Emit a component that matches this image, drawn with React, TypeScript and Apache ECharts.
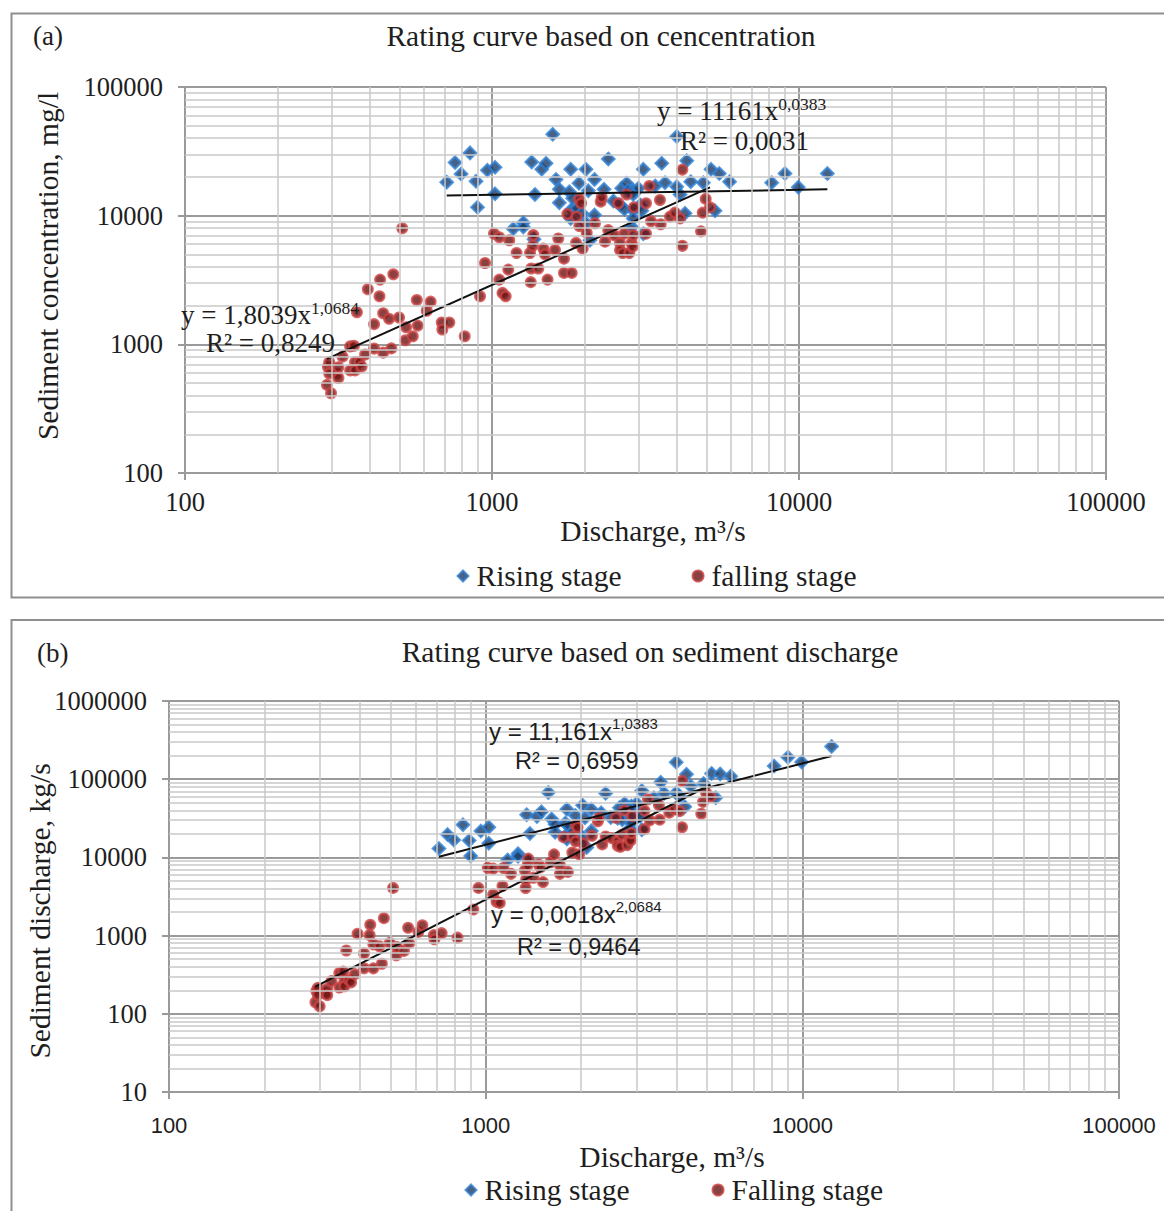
import React, { useEffect, useRef } from "react";
import * as echarts from "echarts";

// Rising stage samples: [discharge Q (m³/s), sediment concentration C (mg/l)]
const risingStage: [number, number][] = [
  [712, 18200], [758, 25880], [793, 21100], [848, 30760], [887, 18500],
  [897, 11620], [966, 22500], [1023, 23770], [1023, 14800], [1173, 7900],
  [1265, 8820], [1265, 8165], [1370, 6556], [1347, 26100], [1380, 14620],
  [1452, 22930], [1500, 25540], [1577, 42900], [1616, 19110], [1657, 16040],
  [1657, 12620], [1786, 15370], [1805, 22930], [1805, 9520], [1818, 11210],
  [1832, 13650], [1885, 11420], [1920, 17900], [1960, 10430], [2024, 22930],
  [2024, 8730], [2059, 15600], [2085, 6440], [2157, 19110], [2157, 10120],
  [2317, 16040], [2392, 27590], [2484, 13000], [2612, 12110], [2645, 16330],
  [2700, 11210], [2746, 17850], [2780, 15740], [2851, 8165], [2884, 15740],
  [2884, 14620], [2884, 11000], [2884, 9520], [2998, 16330], [3041, 12110],
  [3074, 10940], [3111, 22930], [3111, 7245], [3400, 17020], [3572, 25540],
  [3661, 18050], [3997, 41250], [3997, 16800], [4097, 14620], [4254, 10430],
  [4308, 26760], [4440, 18380], [4879, 18050], [5169, 22930], [5326, 10900],
  [5500, 21230], [5940, 18380], [8147, 18050], [9004, 21230], [9948, 16630],
  [12370, 21230],
];

// Falling stage samples: [discharge Q (m³/s), sediment concentration C (mg/l)]
const fallingStage: [number, number][] = [
  [290, 484], [292, 671], [295, 728], [295, 593], [299, 417], [312, 593],
  [316, 664], [316, 548], [326, 802], [345, 964], [345, 628], [355, 975],
  [358, 728], [358, 628], [363, 1776], [370, 728], [376, 671], [386, 833],
  [394, 2680], [413, 927], [413, 1435], [430, 2363], [432, 3184], [442, 862],
  [442, 1745], [462, 1580], [470, 930], [477, 3505], [498, 1618], [510, 7983],
  [522, 1075], [525, 1358], [552, 1155], [569, 2213], [573, 1398], [613, 1823],
  [631, 2147], [686, 1479], [689, 1303], [726, 1479], [815, 1155], [914, 2363],
  [949, 4290], [1015, 7245], [1056, 6795], [1056, 3184], [1082, 2509],
  [1108, 2363], [1130, 3809], [1138, 6440], [1202, 5130], [1330, 5130],
  [1337, 3043], [1342, 3889], [1357, 5830], [1363, 7080], [1415, 3889],
  [1470, 5545], [1488, 5008], [1517, 3184], [1604, 5414], [1644, 6650],
  [1716, 4634], [1716, 3590], [1760, 10310], [1818, 3590], [1878, 6140],
  [1885, 9822], [1925, 13410], [1925, 8318], [1950, 12490], [1974, 5545],
  [2034, 7378], [2165, 8730], [2260, 12850], [2277, 13900], [2334, 6281],
  [2392, 7720], [2502, 7040], [2578, 12490], [2612, 6140], [2612, 5400],
  [2665, 5130], [2698, 7245], [2746, 14620], [2800, 5130], [2851, 6140],
  [2870, 5742], [2884, 7080], [2901, 11620], [3174, 12490], [3174, 7245],
  [3254, 17020], [3296, 9040], [3524, 13240], [3544, 8575], [3800, 9822],
  [3945, 10550], [4097, 9520], [4169, 22800], [4169, 5830], [4796, 7550],
  [4857, 10550], [4966, 13500], [5129, 11620],
];

// Power-law fits y = a·x^b as printed on the chart
const concFitRising = { a: 11161, b: 0.0383, eq: "y = 11161x", exp: "0,0383", r2: "R² = 0,0031" };
const concFitFalling = { a: 1.8039, b: 1.0684, eq: "y = 1,8039x", exp: "1,0684", r2: "R² = 0,8249" };
const loadFitRising = { a: 11.161, b: 1.0383, eq: "y = 11,161x", exp: "1,0383", r2: "R² = 0,6959" };
const loadFitFalling = { a: 0.0018, b: 2.0684, eq: "y = 0,0018x", exp: "2,0684", r2: "R² = 0,9464" };

// Axis ranges (powers of ten)
const dischargeRange = [100, 100000];
const concentrationRange = [100, 100000];
const loadRange = [10, 1000000];

const SERIF = '"Liberation Serif", "Times New Roman", serif';
const SANS = '"Liberation Sans", Arial, sans-serif';
const INK = "#1e1e1e";
const MAJOR = "#9a9a9a";
const MINOR = "#c8c8c8";
const BIG = 29.5;

// Sediment load in kg/s: Q (m³/s) × C (mg/l = g/m³) / 1000
const toLoad = (pts: [number, number][]) => pts.map(([q, c]) => [q, (q * c) / 1000]);

const fitLine = (pts: [number, number][], fit: { a: number; b: number }) => {
  const qs = pts.map((p) => p[0]);
  const lo = Math.min(...qs);
  const hi = Math.max(...qs);
  return [lo, hi].map((q) => [q, fit.a * Math.pow(q, fit.b)]);
};

// Minor gridlines at 2..9 × 10^n inside [lo, hi]
const minorGrid = (lo: number, hi: number) => {
  const out: number[] = [];
  for (let d = lo; d < hi; d *= 10) {
    for (let k = 2; k <= 9; k++) out.push(Math.round(d * k));
  }
  return out;
};

const fmt = (v: number) => String(Math.round(v));

const logAxis = (
  gridIndex: number,
  range: number[],
  labelFont: string,
  labelSize: number,
  margin: number
) => ({
  type: "log",
  logBase: 10,
  gridIndex,
  min: range[0],
  max: range[1],
  axisLine: { show: true, lineStyle: { color: MAJOR, width: 2 } },
  axisTick: { show: true, inside: false, length: 7, lineStyle: { color: MAJOR, width: 2 } },
  axisLabel: { margin, fontFamily: labelFont, fontSize: labelSize, color: INK, formatter: fmt },
  splitLine: { show: true, lineStyle: { color: MAJOR, width: 2 } },
  minorTick: { show: false },
  minorSplitLine: { show: false },
});

const minorSeries = (idx: number, xs: number[], ys: number[]) => ({
  type: "line",
  name: "grid" + idx,
  xAxisIndex: idx,
  yAxisIndex: idx,
  data: [],
  z: 1,
  silent: true,
  markLine: {
    silent: true,
    symbol: ["none", "none"],
    label: { show: false },
    lineStyle: { color: MINOR, width: 1.5, type: "solid" },
    emphasis: { disabled: true },
    data: [...xs.map((v) => ({ xAxis: v })), ...ys.map((v) => ({ yAxis: v }))],
  },
});

const risingStyle = {
  symbol: "diamond",
  symbolSize: 12,
  itemStyle: { color: "#1a3b66", borderColor: "#2f80d2", borderWidth: 2.5 },
};
const fallingStyle = {
  symbol: "circle",
  symbolSize: 9.5,
  itemStyle: { color: "#6c1212", borderColor: "#cb4444", borderWidth: 2.5 },
};

const trend = (idx: number, name: string, data: number[][]) => ({
  type: "line",
  name,
  xAxisIndex: idx,
  yAxisIndex: idx,
  data,
  showSymbol: false,
  symbol: "none",
  z: 4,
  silent: true,
  lineStyle: { color: "#111", width: 2 },
});

const txt = (x: number, y: number, text: string, font: string, size: number, extra: any = {}) => ({
  type: "text",
  x,
  y,
  z: 10,
  style: {
    text,
    fontFamily: font,
    fontSize: size,
    fill: INK,
    align: "left",
    verticalAlign: "middle",
    ...extra,
  },
});

const eqText = (x: number, y: number, eq: string, exp: string, font: string, size: number, supSize: number) => ({
  type: "text",
  x,
  y,
  z: 10,
  style: {
    text: `{m|${eq}}{s|${exp}}`,
    align: "left",
    verticalAlign: "middle",
    rich: {
      m: { fontFamily: font, fontSize: size, fill: INK, lineHeight: size + 6 },
      s: { fontFamily: font, fontSize: supSize, fill: INK, verticalAlign: "top" },
    },
  },
});

const legendText = { fontFamily: SERIF, fontSize: BIG, color: INK, padding: [0, 0, 0, 3] };

export default function App() {
  const ref = useRef<HTMLDivElement>(null);

  useEffect(() => {
    document.body.style.margin = "0";
    if (!ref.current) return;
    const chart = echarts.init(ref.current, undefined, { renderer: "svg" });

    const minorQ = minorGrid(dischargeRange[0], dischargeRange[1]);
    const minorC = minorGrid(concentrationRange[0], concentrationRange[1]);
    const minorL = minorGrid(loadRange[0], loadRange[1]);

    chart.setOption({
      animation: false,
      backgroundColor: "#ffffff",
      grid: [
        { left: 185, right: 58, top: 87, bottom: 738 },
        { left: 169, right: 45, top: 701, bottom: 119 },
      ],
      xAxis: [
        logAxis(0, dischargeRange, SERIF, 26.5, 15),
        logAxis(1, dischargeRange, SANS, 22, 22),
      ],
      yAxis: [
        logAxis(0, concentrationRange, SERIF, 26.5, 22),
        logAxis(1, loadRange, SERIF, 26.5, 22),
      ],
      legend: [
        {
          data: ["Rising stage", "falling stage"],
          left: 456.5,
          top: 561,
          padding: 0,
          itemWidth: 11,
          itemHeight: 11,
          itemGap: 70,
          selectedMode: false,
          textStyle: legendText,
        },
        {
          data: ["Rising stage", "Falling stage"],
          left: 464.5,
          top: 1175,
          padding: 0,
          itemWidth: 11,
          itemHeight: 11,
          itemGap: 82,
          selectedMode: false,
          textStyle: legendText,
        },
      ],
      series: [
        minorSeries(0, minorQ, minorC),
        { type: "scatter", name: "Rising stage", xAxisIndex: 0, yAxisIndex: 0, z: 2, data: risingStage, ...risingStyle },
        { type: "scatter", name: "falling stage", xAxisIndex: 0, yAxisIndex: 0, z: 3, data: fallingStage, ...fallingStyle },
        trend(0, "concRisingFit", fitLine(risingStage, concFitRising)),
        trend(0, "concFallingFit", fitLine(fallingStage, concFitFalling)),

        minorSeries(1, minorQ, minorL),
        { type: "scatter", name: "Rising stage", xAxisIndex: 1, yAxisIndex: 1, z: 2, data: toLoad(risingStage), ...risingStyle },
        { type: "scatter", name: "Falling stage", xAxisIndex: 1, yAxisIndex: 1, z: 3, data: toLoad(fallingStage), ...fallingStyle },
        trend(1, "loadRisingFit", fitLine(toLoad(risingStage) as [number, number][], loadFitRising)),
        trend(1, "loadFallingFit", fitLine(toLoad(fallingStage) as [number, number][], loadFitFalling)),
      ],
      graphic: [
        // panel frames
        {
          type: "rect",
          z: 0,
          shape: { x: 11.5, y: 13.5, width: 1170, height: 584 },
          style: { fill: "none", stroke: "#8f8f8f", lineWidth: 2 },
        },
        {
          type: "rect",
          z: 0,
          shape: { x: 11.5, y: 620, width: 1170, height: 620 },
          style: { fill: "none", stroke: "#8f8f8f", lineWidth: 2 },
        },
        // panel (a)
        txt(33, 36, "(a)", SERIF, 27),
        txt(601, 36, "Rating curve based on cencentration", SERIF, BIG, { align: "center" }),
        txt(653, 531, "Discharge, m³/s", SERIF, BIG, { align: "center" }),
        {
          ...txt(48, 266, "Sediment concentration, mg/l", SERIF, BIG, { align: "center" }),
          rotation: Math.PI / 2,
        },
        eqText(181, 315, concFitFalling.eq, concFitFalling.exp, SERIF, 27, 17.5),
        txt(206, 343, concFitFalling.r2, SERIF, 27),
        eqText(657, 111, concFitRising.eq, concFitRising.exp, SERIF, 27, 17.5),
        txt(680, 141, concFitRising.r2, SERIF, 27),
        // panel (b)
        txt(37, 653, "(b)", SERIF, 27),
        txt(650, 652, "Rating curve based on sediment discharge", SERIF, BIG, { align: "center" }),
        txt(672, 1157, "Discharge, m³/s", SERIF, BIG, { align: "center" }),
        {
          ...txt(40, 911, "Sediment discharge, kg/s", SERIF, BIG, { align: "center" }),
          rotation: Math.PI / 2,
        },
        eqText(489, 731, loadFitRising.eq, loadFitRising.exp, SANS, 24, 15),
        txt(515, 761, loadFitRising.r2, SANS, 23.5),
        eqText(491, 914, loadFitFalling.eq, loadFitFalling.exp, SANS, 24, 15),
        txt(517, 947, loadFitFalling.r2, SANS, 23.5),
      ],
    });

    return () => chart.dispose();
  }, []);

  return (
    <div
      ref={ref}
      style={{ position: "absolute", left: 0, top: 0, width: 1164, height: 1211, background: "#fff" }}
    />
  );
}
